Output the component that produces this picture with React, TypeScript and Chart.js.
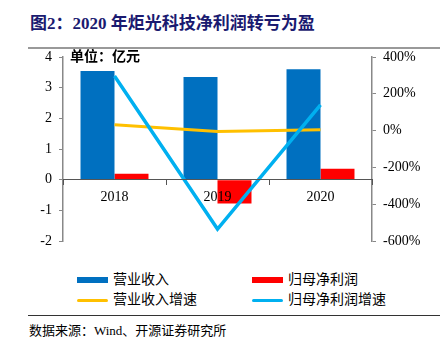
import React, { useEffect, useRef } from "react";
import { Chart, registerables } from "chart.js";

Chart.register(...registerables);

const categories = ["2018", "2019", "2020"];
const revenue = [3.54, 3.35, 3.6];
const netProfit = [0.19, -0.78, 0.36];
const revenueGrowth = [32, -5, 5];
const profitGrowth = [297, -535, 140];
const leftTicks = [-2, -1, 0, 1, 2, 3, 4];
const rightTicks = [-600, -400, -200, 0, 200, 400];

const seriesNames = ["营业收入", "归母净利润", "营业收入增速", "归母净利润增速"];
const colors = ["#0070C0", "#FF0000", "#FFC000", "#00B0F0"];

const FONT = "'Liberation Serif', 'Noto Sans CJK SC', serif";

export default function App() {
  const ref = useRef<HTMLCanvasElement | null>(null);

  useEffect(() => {
    if (!ref.current) return;
    const chart = new Chart(ref.current, {
      type: "bar",
      data: {
        labels: categories,
        datasets: [
          {
            type: "line",
            label: seriesNames[3],
            data: profitGrowth,
            borderColor: colors[3],
            backgroundColor: colors[3],
            borderWidth: 3.5,
            pointRadius: 0,
            yAxisID: "y1",
            order: 0,
          },
          {
            type: "line",
            label: seriesNames[2],
            data: revenueGrowth,
            borderColor: colors[2],
            backgroundColor: colors[2],
            borderWidth: 3,
            pointRadius: 0,
            yAxisID: "y1",
            order: 1,
          },
          {
            type: "bar",
            label: seriesNames[0],
            data: revenue,
            backgroundColor: colors[0],
            yAxisID: "y",
            categoryPercentage: 0.66,
            barPercentage: 1,
            order: 2,
          },
          {
            type: "bar",
            label: seriesNames[1],
            data: netProfit,
            backgroundColor: colors[1],
            yAxisID: "y",
            categoryPercentage: 0.66,
            barPercentage: 1,
            order: 2,
          },
        ],
      },
      options: {
        animation: false,
        responsive: false,
        maintainAspectRatio: false,
        layout: { padding: { top: 17, bottom: 19, left: 0, right: 0 } },
        plugins: { legend: { display: false }, tooltip: { enabled: false } },
        scales: {
          x: {
            position: { y: 0 } as any,
            offset: true,
            grid: {
              offset: true,
              drawOnChartArea: false,
              drawTicks: true,
              tickLength: 5,
              color: "#555",
              z: 1,
            } as any,
            border: { color: "#555", width: 1, z: 1 } as any,
            ticks: {
              color: "#000",
              padding: 4,
              z: 1,
              font: { family: FONT, size: 14 },
            } as any,
          },
          y: {
            position: "left",
            min: -2,
            max: 4,
            afterBuildTicks: (axis: any) => {
              axis.ticks = leftTicks.map((v) => ({ value: v }));
            },
            afterFit: (axis: any) => {
              axis.width = 63;
            },
            grid: {
              drawOnChartArea: false,
              drawTicks: true,
              tickLength: 4,
              color: "#888",
            },
            border: { color: "#888", width: 1.5 },
            ticks: {
              color: "#000",
              padding: 7,
              font: { family: FONT, size: 14 },
            },
          },
          y1: {
            position: "right",
            min: -600,
            max: 400,
            afterBuildTicks: (axis: any) => {
              axis.ticks = rightTicks.map((v) => ({ value: v }));
            },
            afterFit: (axis: any) => {
              axis.width = 76;
            },
            grid: {
              drawOnChartArea: false,
              drawTicks: true,
              tickLength: 4,
              color: "#888",
            },
            border: { color: "#888", width: 1.5 },
            ticks: {
              color: "#000",
              padding: 7,
              font: { family: FONT, size: 14 },
              callback: (v: any) => v + "%",
            },
          },
        },
      },
    });
    return () => chart.destroy();
  }, []);

  const legendItems = [
    { i: 0, x: 77, y: 280, bar: true },
    { i: 1, x: 252, y: 280, bar: true },
    { i: 2, x: 77, y: 300, bar: false },
    { i: 3, x: 252, y: 300, bar: false },
  ];

  return (
    <div
      style={{
        position: "fixed",
        left: 0,
        top: 0,
        width: 448,
        height: 350,
        background: "#fff",
        fontFamily: FONT,
        overflow: "hidden",
      }}
    >
      <div
        style={{
          position: "absolute",
          left: 30,
          top: 12,
          fontSize: 17,
          fontWeight: "bold",
          color: "#1a1a70",
          whiteSpace: "nowrap",
          lineHeight: "24px",
        }}
      >
        图2：2020 年炬光科技净利润转亏为盈
      </div>
      <div
        style={{
          position: "absolute",
          left: 28,
          top: 47,
          width: 412,
          height: 2,
          background: "#999",
        }}
      />
      <canvas
        ref={ref}
        width={448}
        height={220}
        style={{ position: "absolute", left: 0, top: 40, width: 448, height: 220 }}
      />
      <div
        style={{
          position: "absolute",
          left: 70,
          top: 48,
          fontSize: 14,
          fontWeight: "bold",
          color: "#000",
          whiteSpace: "nowrap",
          lineHeight: "18px",
        }}
      >
        单位：亿元
      </div>
      {legendItems.map((it) => (
        <div key={it.i}>
          <div
            style={{
              position: "absolute",
              left: it.x,
              top: it.y - (it.bar ? 3 : 1.5),
              width: 31,
              height: it.bar ? 6 : 3,
              borderRadius: it.bar ? 0 : 2,
              background: colors[it.i],
            }}
          />
          <div
            style={{
              position: "absolute",
              left: it.x + 36,
              top: it.y - 10,
              fontSize: 14,
              lineHeight: "20px",
              color: "#000",
              whiteSpace: "nowrap",
            }}
          >
            {seriesNames[it.i]}
          </div>
        </div>
      ))}
      <div
        style={{
          position: "absolute",
          left: 28,
          top: 315,
          width: 412,
          height: 1,
          background: "#333",
        }}
      />
      <div
        style={{
          position: "absolute",
          left: 29,
          top: 321,
          fontSize: 13,
          lineHeight: "20px",
          color: "#000",
          whiteSpace: "nowrap",
        }}
      >
        数据来源：Wind、开源证券研究所
      </div>
    </div>
  );
}
